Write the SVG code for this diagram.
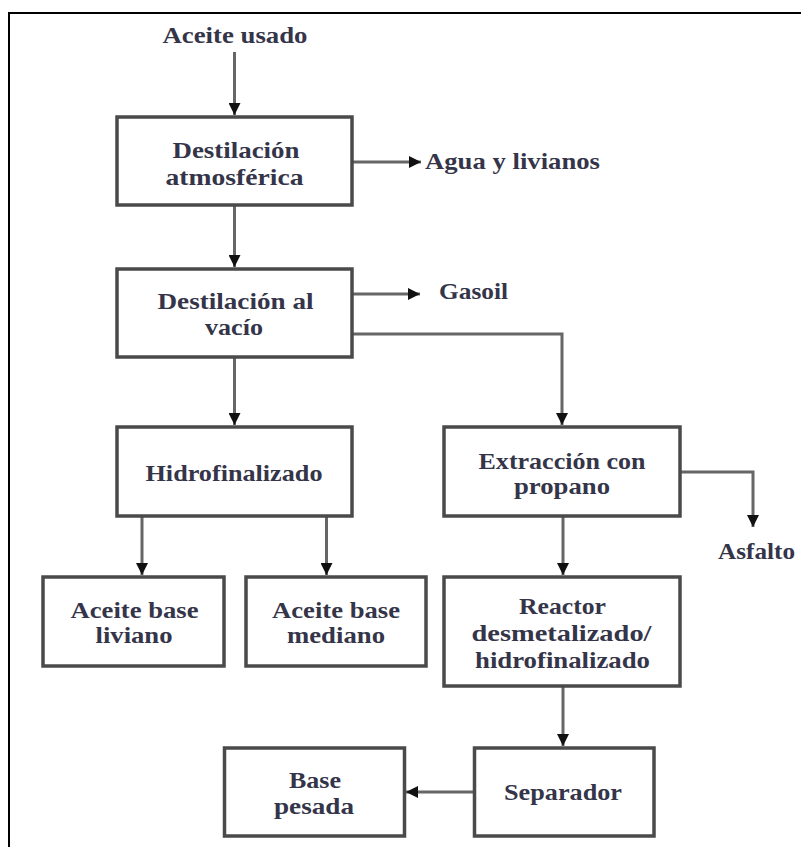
<svg xmlns="http://www.w3.org/2000/svg" width="801" height="847" viewBox="0 0 801 847">
<style>
.box{fill:#fff;stroke:#4a4a4a;stroke-width:3.5}
.t{font-family:"Liberation Serif","DejaVu Serif",serif;font-weight:bold;font-size:23px;fill:#35354a;text-anchor:middle}
.ts{font-family:"Liberation Serif","DejaVu Serif",serif;font-weight:bold;font-size:23px;fill:#35354a;text-anchor:start}
.c{fill:none;stroke:#666;stroke-width:3;marker-end:url(#ah)}
</style>
<defs>
<marker id="ah" markerUnits="userSpaceOnUse" markerWidth="12" markerHeight="12" viewBox="0 0 10 10" refX="10" refY="5" orient="auto">
<path d="M0,0 L10,5 L0,10 z" fill="#111"/>
</marker>
</defs>
<rect width="801" height="847" fill="#fff"/>
<path d="M9,847 V13 H801" fill="none" stroke="#000" stroke-width="2"/>
<g id="connectors">
<path class="c" d="M234.5,52 V115"/>
<path class="c" d="M352,162 H421"/>
<path class="c" d="M234.5,205 V267"/>
<path class="c" d="M352,294 H420"/>
<path class="c" d="M352,334 H562 V425"/>
<path class="c" d="M234.5,357 V425"/>
<path class="c" d="M680,472 H753 V527"/>
<path class="c" d="M142,516 V575"/>
<path class="c" d="M326.5,516 V575"/>
<path class="c" d="M563,516 V575"/>
<path class="c" d="M563,686 V746"/>
<path class="c" d="M474.5,792 H406"/>
</g>
<g id="input">
<text class="t" x="235" y="43" textLength="145" lengthAdjust="spacingAndGlyphs">Aceite usado</text>
</g>
<g id="n1">
<rect class="box" x="117" y="117" width="235" height="88"/>
<text class="t" x="236" y="158" textLength="127" lengthAdjust="spacingAndGlyphs">Destilación</text>
<text class="t" x="234.5" y="185" textLength="138" lengthAdjust="spacingAndGlyphs">atmosférica</text>
</g>
<g id="out-agua">
<text class="ts" x="425" y="169" textLength="175" lengthAdjust="spacingAndGlyphs">Agua y livianos</text>
</g>
<g id="n2">
<rect class="box" x="117" y="269" width="235" height="88"/>
<text class="t" x="235.5" y="309" textLength="156" lengthAdjust="spacingAndGlyphs">Destilación al</text>
<text class="t" x="234" y="335" textLength="58" lengthAdjust="spacingAndGlyphs">vacío</text>
</g>
<g id="out-gasoil">
<text class="ts" x="439" y="299" textLength="69" lengthAdjust="spacingAndGlyphs">Gasoil</text>
</g>
<g id="n3">
<rect class="box" x="117" y="427" width="235" height="89"/>
<text class="t" x="234" y="481" textLength="177" lengthAdjust="spacingAndGlyphs">Hidrofinalizado</text>
</g>
<g id="n4">
<rect class="box" x="444" y="427" width="236" height="89"/>
<text class="t" x="562" y="469" textLength="167" lengthAdjust="spacingAndGlyphs">Extracción con</text>
<text class="t" x="562" y="494" textLength="96" lengthAdjust="spacingAndGlyphs">propano</text>
</g>
<g id="out-asfalto">
<text class="t" x="756.5" y="559" textLength="77" lengthAdjust="spacingAndGlyphs">Asfalto</text>
</g>
<g id="n5">
<rect class="box" x="43" y="577" width="181" height="89"/>
<text class="t" x="134.5" y="618" textLength="128" lengthAdjust="spacingAndGlyphs">Aceite base</text>
<text class="t" x="134" y="643" textLength="77" lengthAdjust="spacingAndGlyphs">liviano</text>
</g>
<g id="n6">
<rect class="box" x="246" y="577" width="180" height="89"/>
<text class="t" x="336" y="618" textLength="128" lengthAdjust="spacingAndGlyphs">Aceite base</text>
<text class="t" x="336" y="643" textLength="98" lengthAdjust="spacingAndGlyphs">mediano</text>
</g>
<g id="n7">
<rect class="box" x="444" y="577" width="236" height="109"/>
<text class="t" x="562.5" y="614" textLength="87" lengthAdjust="spacingAndGlyphs">Reactor</text>
<text class="t" x="561.5" y="641" textLength="180" lengthAdjust="spacingAndGlyphs">desmetalizado/</text>
<text class="t" x="562.5" y="668" textLength="175" lengthAdjust="spacingAndGlyphs">hidrofinalizado</text>
</g>
<g id="n8">
<rect class="box" x="474.5" y="748" width="179.5" height="88"/>
<text class="t" x="563" y="800" textLength="118" lengthAdjust="spacingAndGlyphs">Separador</text>
</g>
<g id="n9">
<rect class="box" x="224.5" y="748" width="180" height="88"/>
<text class="t" x="315" y="788" textLength="52" lengthAdjust="spacingAndGlyphs">Base</text>
<text class="t" x="314" y="814" textLength="80" lengthAdjust="spacingAndGlyphs">pesada</text>
</g>
</svg>
